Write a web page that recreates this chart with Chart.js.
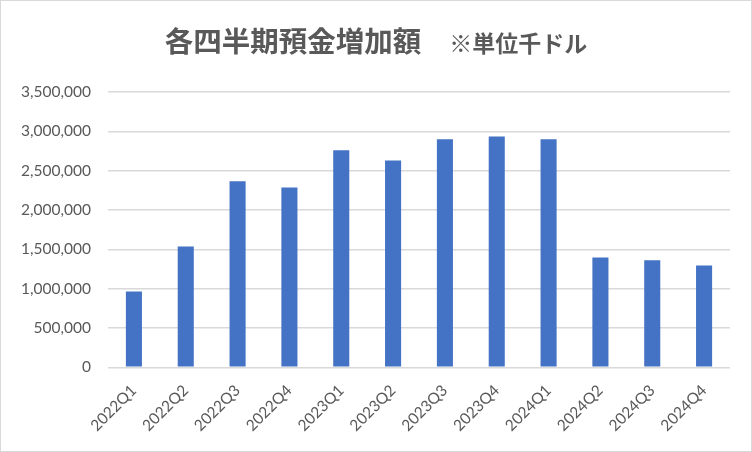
<!DOCTYPE html>
<html>
<head>
<meta charset="utf-8">
<script src="https://cdn.jsdelivr.net/npm/chart.js@4"></script>
<style>
  html, body { margin: 0; padding: 0; background: #fff; }
  #wrap { position: relative; width: 750px; height: 450px; border: 1px solid #d9d9d9; }
  #title {
    position: absolute; left: 0; top: 20px; width: 750px; text-align: center;
    font-family: "Noto Sans CJK JP"; font-weight: bold; color: #595959;
    line-height: 38px; white-space: pre;
  }
  #title .main { font-size: 28.5px; }
  #title .sub { font-size: 23px; }
</style>
</head>
<body>
<div id="wrap">
  <div id="title"><span class="main">各四半期預金増加額</span><span class="sub">　 ※単位千ドル</span></div>
  <canvas id="myChart" width="750" height="450"></canvas>
</div>
<script>
// 四半期ラベル
var quarters = ['2022Q1', '2022Q2', '2022Q3', '2022Q4', '2023Q1', '2023Q2',
                '2023Q3', '2023Q4', '2024Q1', '2024Q2', '2024Q3', '2024Q4'];
// 預金増加額（千ドル）
var increase = [965000, 1535000, 2365000, 2285000, 2760000, 2630000,
                2900000, 2935000, 2900000, 1395000, 1360000, 1295000];
var yMax = 3500000;
var yStep = 500000;

var ctx = document.getElementById('myChart').getContext('2d');
var chart = new Chart(ctx, {
    type: 'bar',
    data: {
        labels: quarters,
        datasets: [{
            data: increase,
            backgroundColor: '#4472c4',
            barPercentage: 0.31,
            categoryPercentage: 1.0
        }]
    },
    options: {
        responsive: false,
        animation: false,
        layout: { padding: { top: 91, right: 21, bottom: 10, left: 0 } },
        plugins: {
            legend: { display: false },
            tooltip: { enabled: false },
            title: { display: false }
        },
        scales: {
            x: {
                grid: { display: false },
                border: { display: false },
                ticks: {
                    color: '#595959',
                    font: { family: 'Lato', size: 15.5 },
                    maxRotation: 45,
                    minRotation: 45,
                    padding: 6
                }
            },
            y: {
                min: 0,
                max: yMax,
                grid: { color: '#d9d9d9', lineWidth: 1.5, drawTicks: false },
                border: { display: false },
                ticks: {
                    stepSize: yStep,
                    color: '#595959',
                    font: { family: 'Lato', size: 15.5 },
                    padding: 17,
                    callback: function (v) { return v.toLocaleString('en-US'); }
                },
                afterFit: function (scale) { scale.width = 107; }
            }
        }
    }
});
</script>
</body>
</html>
